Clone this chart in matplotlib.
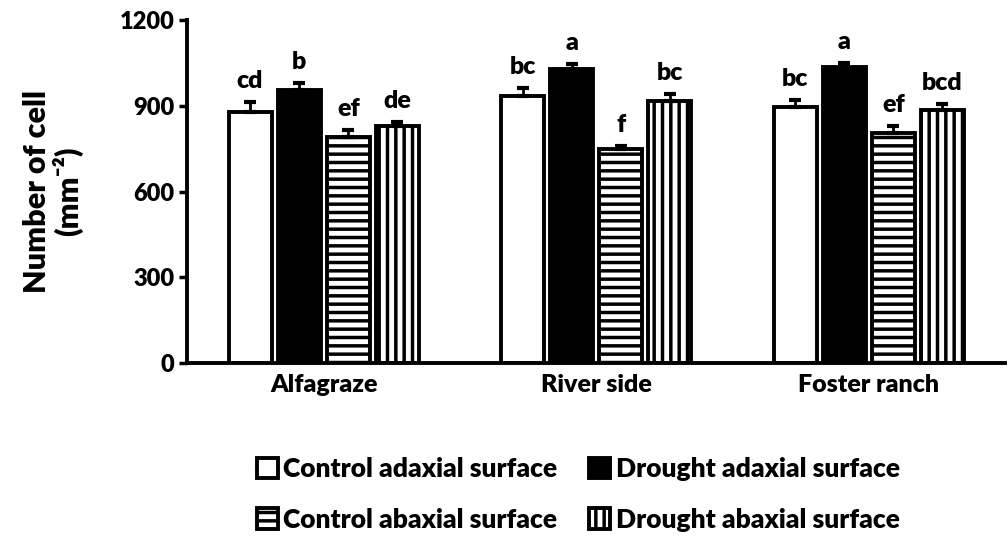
import numpy as np
import matplotlib.pyplot as plt

plt.rcParams['font.family'] = ['Lato', 'DejaVu Sans']
plt.rcParams['font.weight'] = 'heavy'
plt.rcParams['hatch.linewidth'] = 2.5

# data
sites = ['Alfagraze', 'River side', 'Foster ranch']
series = ['Control adaxial surface', 'Drought adaxial surface',
          'Control abaxial surface', 'Drought abaxial surface']
means = [
    [880, 955, 792, 828],
    [935, 1030, 748, 918],
    [895, 1036, 806, 884],
]
errs = [
    [35, 25, 25, 17],
    [28, 17, 11, 24],
    [25, 14, 24, 24],
]
letters = [
    ['cd', 'b', 'ef', 'de'],
    ['bc', 'a', 'f', 'bc'],
    ['bc', 'a', 'ef', 'bcd'],
]

faces = ['white', 'black', 'white', 'white']
hatches = [None, None, '--', '||']
wt = 'heavy'

fig = plt.figure(figsize=(10.08, 5.42), dpi=100)
ax = fig.add_axes([0.186, 0.330, 0.811, 0.633])

means = np.array(means)
errs = np.array(errs)
x = np.arange(len(sites))
w = 0.175
offs = (np.arange(4) - 1.5) * w * 1.03

handles = []
for j in range(4):
    xs = x + offs[j]
    h = ax.bar(xs, means[:, j], width=w * 0.9, color=faces[j], edgecolor='black',
               linewidth=2.8, hatch=hatches[j], label=series[j], zorder=2)
    handles.append(h)
    ax.errorbar(xs, means[:, j], yerr=[np.zeros(3), errs[:, j]], fmt='none',
                ecolor='black', elinewidth=2, capsize=4.5, capthick=3, zorder=3)
    for i in range(3):
        ax.annotate(letters[i][j], (xs[i], means[i, j] + errs[i, j]),
                    xytext=(0, 7), textcoords='offset points', ha='center',
                    va='bottom', fontsize=18, fontweight=wt)

ax.set_xlim(-0.5, 2.5)
ax.set_ylim(0, 1200)
ax.set_yticks([0, 300, 600, 900, 1200])
ax.set_xticks(x)
ax.set_xticklabels(sites, fontsize=18, fontweight=wt)
ax.tick_params(axis='y', labelsize=17, width=2.5, length=6, direction='out')
ax.tick_params(axis='x', length=0, pad=8)
for lab in ax.get_yticklabels():
    lab.set_fontweight(wt)
for s in ['top', 'right']:
    ax.spines[s].set_visible(False)
for s in ['left', 'bottom']:
    ax.spines[s].set_linewidth(2.8)

ax.set_ylabel('Number of cell\n(mm⁻²)', fontsize=22,
              fontweight=wt, labelpad=26, linespacing=1.05)

order = [0, 2, 1, 3]
ax.legend([handles[k] for k in order], [series[k] for k in order],
          loc='upper center', bbox_to_anchor=(0.478, -0.205), ncol=2, frameon=False,
          prop={'size': 19, 'weight': wt}, handlelength=0.8, handleheight=0.8,
          handletextpad=0.2, columnspacing=1.2, labelspacing=1.0)

fig.savefig('out.png', dpi=100)
